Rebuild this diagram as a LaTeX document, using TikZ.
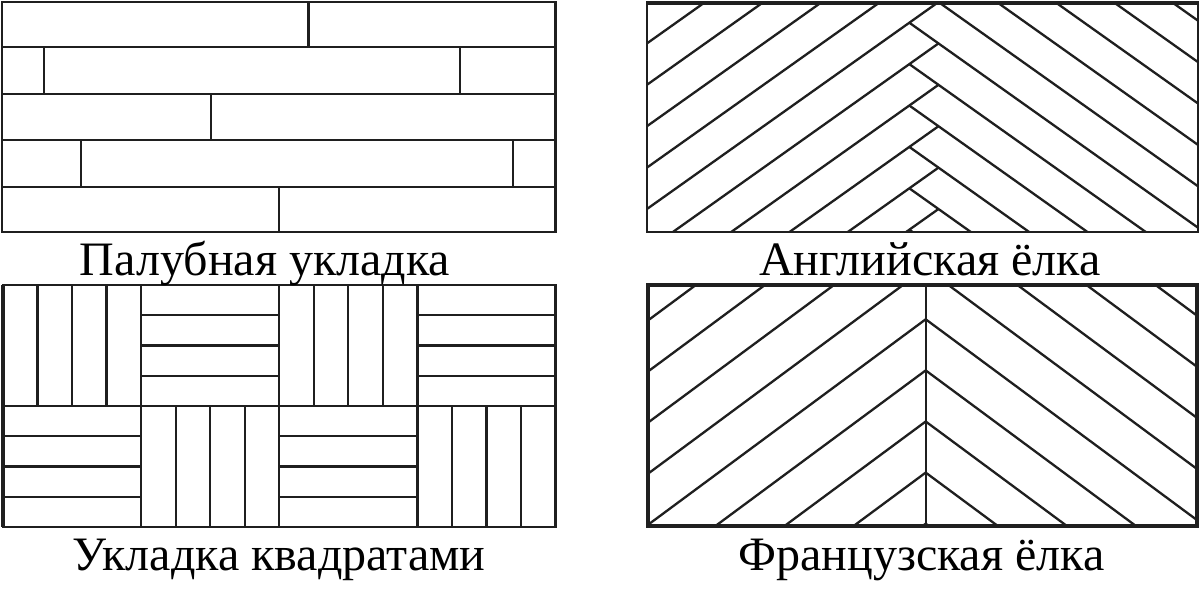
\documentclass[tikz,border=0pt]{standalone}
\usepackage{fontspec}
\setmainfont{Liberation Serif}
\begin{document}
\begin{tikzpicture}[x=0.5pt,y=-0.5pt,
  ln/.style={line width=1.15pt, draw=black!88},
  thickln/.style={line width=1.7pt, draw=black!88},
  lbl/.style={anchor=base, inner sep=0pt, text=black, font=\fontsize{24}{29}\selectfont}]
\useasboundingbox (0,0) rectangle (1200,600);
\fill[white] (0,0) rectangle (1200,600);

% ---------- Panel 1: deck layout ----------
\draw[ln] (2,2) rectangle (555.5,232);
\foreach \y in {47,94,140,187} \draw[ln] (2,\y) -- (555.5,\y);
\draw[ln] (308.5,2) -- (308.5,47);
\draw[ln] (44,47) -- (44,94);
\draw[ln] (460,47) -- (460,94);
\draw[ln] (211,94) -- (211,140);
\draw[ln] (81,140) -- (81,187);
\draw[ln] (513,140) -- (513,187);
\draw[ln] (279,187) -- (279,232);

% ---------- Panel 2: English herringbone ----------
\begin{scope}
  \clip (647,2) rectangle (1198,232);
  \foreach \k in {-5,...,5}
    \draw[ln] (647,{2+41.4*\k+0.71*291.5}) -- (938.5,{2+41.4*\k});
  \foreach \k in {-6,...,5}
    \draw[ln] (909.3,{22.7+41.4*\k}) -- (1198,{22.7+41.4*\k+0.71*288.7});
\end{scope}
\draw[ln] (647,2) rectangle (1198,232);
\draw[line width=2pt, draw=black!88] (647,2.5) -- (1198,2.5);

% ---------- Panel 3: squares ----------
\draw[ln] (3,285) rectangle (555.5,527);
\foreach \i in {1,2,3} \draw[ln] ({3+138.125*\i},285) -- ({3+138.125*\i},527);
\draw[ln] (3,406) -- (555.5,406);
\foreach \i/\j in {0/0,2/0,1/1,3/1}
  \foreach \m in {1,2,3}
    \draw[ln] ({3+138.125*(\i+\m/4)},{285+121*\j}) -- ({3+138.125*(\i+\m/4)},{406+121*\j});
\foreach \i/\j in {1/0,3/0,0/1,2/1}
  \foreach \m in {1,2,3}
    \draw[ln] ({3+138.125*\i},{285+121*(\j+\m/4)}) -- ({3+138.125*(\i+1)},{285+121*(\j+\m/4)});
\draw[thickln] (3,285) -- (3,527);

% ---------- Panel 4: French herringbone ----------
\begin{scope}
  \clip (648,285) rectangle (1197,526);
  \foreach \k in {-4,...,4}
    \draw[ln] (648,{319.3+51.1*\k+0.74*277.7}) -- (925.7,{319.3+51.1*\k}) -- (1197,{319.3+51.1*\k+0.74*271.3});
\end{scope}
\draw[ln] (925.7,285) -- (925.7,526);
\draw[thickln] (648,285) rectangle (1197,526);

% ---------- Labels ----------
\node[lbl] (t1) at (265,275.7) {Палубная укладка};
\node[lbl] (t2) at (930,275) {Английская ёлка};
\node[lbl] (t3) at (279,570) {Укладка квадратами};
\node[lbl] (t4) at (921.5,570) {Французская ёлка};
\end{tikzpicture}
\end{document}
